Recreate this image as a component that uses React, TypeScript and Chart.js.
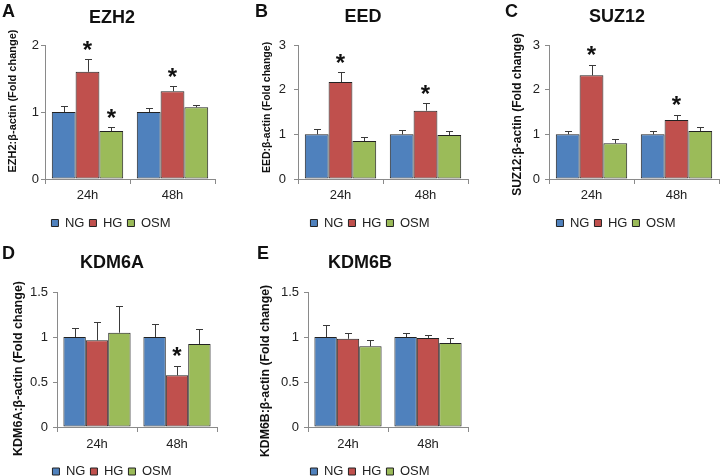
import React, { useEffect, useRef } from 'react';
import { Chart, registerables } from 'chart.js';
Chart.register(...registerables);

const FONT = "'Liberation Sans', Arial, sans-serif";

const categories = ['24h', '48h'];
const seriesNames = ['NG', 'HG', 'OSM'];
const seriesColors = ['#4F81BD', '#C0504D', '#9BBB59'];

// A: EZH2
const ezh2NG = [1.0, 1.0];
const ezh2HG = [1.6, 1.31];
const ezh2OSM = [0.716, 1.07];
const ezh2NGErr = [0.096, 0.056];
const ezh2HGErr = [0.19, 0.073];
const ezh2OSMErr = [0.06, 0.03];
const ezh2HGSig = [true, true];
const ezh2OSMSig = [true, false];
const ezh2Ticks = [0, 1, 2];

// B: EED
const eedNG = [1.0, 1.0];
const eedHG = [2.17, 1.53];
const eedOSM = [0.85, 0.985];
const eedNGErr = [0.11, 0.09];
const eedHGErr = [0.22, 0.17];
const eedOSMErr = [0.09, 0.085];
const eedHGSig = [true, true];
const eedTicks = [0, 1, 2, 3];

// C: SUZ12
const suz12NG = [1.0, 1.0];
const suz12HG = [2.32, 1.32];
const suz12OSM = [0.8, 1.075];
const suz12NGErr = [0.08, 0.08];
const suz12HGErr = [0.24, 0.12];
const suz12OSMErr = [0.09, 0.095];
const suz12HGSig = [true, true];
const suz12Ticks = [0, 1, 2, 3];

// D: KDM6A
const kdm6aNG = [1.0, 1.0];
const kdm6aHG = [0.963, 0.574];
const kdm6aOSM = [1.048, 0.922];
const kdm6aNGErr = [0.1, 0.15];
const kdm6aHGErr = [0.204, 0.106];
const kdm6aOSMErr = [0.292, 0.168];
const kdm6aHGSig = [false, true];
const kdm6aTicks = [0, 0.5, 1, 1.5];

// E: KDM6B
const kdm6bNG = [1.0, 1.0];
const kdm6bHG = [0.98, 0.99];
const kdm6bOSM = [0.896, 0.933];
const kdm6bNGErr = [0.13, 0.044];
const kdm6bHGErr = [0.064, 0.03];
const kdm6bOSMErr = [0.074, 0.057];
const kdm6bTicks = [0, 0.5, 1, 1.5];

const noSig = [false, false];

type Layout = {
  cl: number; ct: number; ch: number;
  l: number; r: number; t: number; b: number;
  yw: number; xh: number; padB: number;
  tickPadY: number; tickPadX: number;
  letter: { x: number; y: number };
  title: { x: number; y: number };
  yTitle: { x: number; y: number; size: number };
};

type Panel = {
  letter: string;
  title: string;
  yTitle: string;
  ticks: number[];
  values: number[][];
  errors: number[][];
  sig: boolean[][];
  layout: Layout;
};

const panels: Panel[] = [
  {
    letter: 'A', title: 'EZH2', yTitle: 'EZH2:β-actin (Fold change)', ticks: ezh2Ticks,
    values: [ezh2NG, ezh2HG, ezh2OSM], errors: [ezh2NGErr, ezh2HGErr, ezh2OSMErr],
    sig: [noSig, ezh2HGSig, ezh2OSMSig],
    layout: { cl: 0, ct: 0, ch: 240, l: 45, r: 215, t: 45, b: 179, yw: 38, xh: 35.5, padB: 0.5,
      tickPadY: 2, tickPadX: 4, letter: { x: 2, y: 12 }, title: { x: 112, y: 18 }, yTitle: { x: 13, y: 101, size: 11 } },
  },
  {
    letter: 'B', title: 'EED', yTitle: 'EED:β-actin (Fold change)', ticks: eedTicks,
    values: [eedNG, eedHG, eedOSM], errors: [eedNGErr, eedHGErr, eedOSMErr],
    sig: [noSig, eedHGSig, noSig],
    layout: { cl: 240, ct: 0, ch: 240, l: 298, r: 468, t: 45, b: 179, yw: 26, xh: 35.5, padB: 0.5,
      tickPadY: 8, tickPadX: 4, letter: { x: 255, y: 12 }, title: { x: 363, y: 17 }, yTitle: { x: 267.5, y: 107.5, size: 10.5 } },
  },
  {
    letter: 'C', title: 'SUZ12', yTitle: 'SUZ12:β-actin (Fold change)', ticks: suz12Ticks,
    values: [suz12NG, suz12HG, suz12OSM], errors: [suz12NGErr, suz12HGErr, suz12OSMErr],
    sig: [noSig, suz12HGSig, noSig],
    layout: { cl: 480, ct: 0, ch: 240, l: 549, r: 719, t: 45, b: 179, yw: 36, xh: 35.5, padB: 0.5,
      tickPadY: 5, tickPadX: 4, letter: { x: 505, y: 12 }, title: { x: 617, y: 17 }, yTitle: { x: 517.5, y: 114.5, size: 12 } },
  },
  {
    letter: 'D', title: 'KDM6A', yTitle: 'KDM6A:β-actin (Fold change)', ticks: kdm6aTicks,
    values: [kdm6aNG, kdm6aHG, kdm6aOSM], errors: [kdm6aNGErr, kdm6aHGErr, kdm6aOSMErr],
    sig: [noSig, kdm6aHGSig, noSig],
    layout: { cl: 0, ct: 240, ch: 248, l: 57, r: 217, t: 292, b: 427, yw: 50, xh: 36, padB: 0,
      tickPadY: 5, tickPadX: 5, letter: { x: 2, y: 254 }, title: { x: 112, y: 263.5 }, yTitle: { x: 19, y: 368.5, size: 12.5 } },
  },
  {
    letter: 'E', title: 'KDM6B', yTitle: 'KDM6B:β-actin (Fold change)', ticks: kdm6bTicks,
    values: [kdm6bNG, kdm6bHG, kdm6bOSM], errors: [kdm6bNGErr, kdm6bHGErr, kdm6bOSMErr],
    sig: [noSig, noSig, noSig],
    layout: { cl: 240, ct: 240, ch: 248, l: 308, r: 468, t: 292, b: 427, yw: 36, xh: 36, padB: 0,
      tickPadY: 5, tickPadX: 5, letter: { x: 257, y: 254 }, title: { x: 360, y: 263.5 }, yTitle: { x: 266, y: 371, size: 12.3 } },
  },
];

const PAD_R = 4;

function makeOverlay(p: Panel) {
  const L = p.layout;
  return {
    id: 'overlay' + p.letter,
    afterDatasetsDraw(chart: any) {
      const ctx = chart.ctx;
      const ys = chart.scales.y;
      chart.data.datasets.forEach((ds: any, i: number) => {
        const meta = chart.getDatasetMeta(i);
        meta.data.forEach((bar: any, j: number) => {
          const v = ds.data[j] as number;
          const e = p.errors[i][j];
          const top = ys.getPixelForValue(v + e);
          const x = Math.round(bar.x) + 0.5;
          const ty = Math.round(top) + 0.5;
          ctx.save();
          ctx.strokeStyle = '#3a3a3a';
          ctx.lineWidth = 1;
          ctx.beginPath();
          ctx.moveTo(x, bar.y);
          ctx.lineTo(x, ty);
          ctx.moveTo(x - 3.5, ty);
          ctx.lineTo(x + 3.5, ty);
          ctx.stroke();
          if (p.sig[i][j]) {
            ctx.font = `bold 24px ${FONT}`;
            ctx.fillStyle = '#111';
            ctx.textAlign = 'center';
            ctx.textBaseline = 'alphabetic';
            const m = ctx.measureText('*');
            const cy = top - 14;
            const base = cy + (m.actualBoundingBoxAscent - m.actualBoundingBoxDescent) / 2;
            ctx.fillText('*', bar.x, base);
          }
          ctx.restore();
        });
      });
    },
    afterDraw(chart: any) {
      const ctx = chart.ctx;
      ctx.save();
      ctx.fillStyle = '#111';
      ctx.textBaseline = 'middle';
      ctx.font = `bold 18px ${FONT}`;
      ctx.textAlign = 'left';
      ctx.fillText(p.letter, L.letter.x - L.cl, L.letter.y - L.ct);
      ctx.textAlign = 'center';
      ctx.fillText(p.title, L.title.x - L.cl, L.title.y - L.ct);
      ctx.font = `bold ${L.yTitle.size}px ${FONT}`;
      ctx.translate(L.yTitle.x - L.cl, L.yTitle.y - L.ct);
      ctx.rotate(-Math.PI / 2);
      ctx.fillText(p.yTitle, 0, 0);
      ctx.restore();
    },
  };
}

function PanelChart({ p }: { p: Panel }) {
  const ref = useRef<HTMLCanvasElement>(null);
  const L = p.layout;
  const W = L.r + PAD_R - L.cl;
  const H = L.ch;
  useEffect(() => {
    const canvas = ref.current!;
    const padLeft = L.l - L.cl - L.yw;
    const chart = new Chart(canvas, {
      type: 'bar',
      data: {
        labels: categories,
        datasets: seriesNames.map((name, i) => ({
          label: name,
          data: p.values[i],
          backgroundColor: seriesColors[i],
          borderColor: '#222',
          borderWidth: 1,
          borderSkipped: false,
          categoryPercentage: 0.84,
          barPercentage: 1,
        })),
      },
      options: {
        responsive: false,
        maintainAspectRatio: false,
        animation: false,
        layout: { padding: { left: padLeft, right: PAD_R, top: L.t - L.ct, bottom: L.padB } },
        plugins: {
          title: { display: false },
          tooltip: { enabled: false },
          legend: {
            display: true,
            position: 'bottom',
            labels: {
              boxWidth: 7,
              boxHeight: 7,
              padding: 5,
              color: '#222',
              font: { family: FONT, size: 13 },
            },
          },
        },
        scales: {
          x: {
            grid: { display: true, drawOnChartArea: false, drawTicks: true, tickLength: 5, color: '#8a8a8a', offset: true },
            border: { display: true, color: '#8a8a8a' },
            ticks: { color: '#222', font: { family: FONT, size: 13 }, padding: L.tickPadX, maxRotation: 0 },
            afterFit: (s: any) => { s.height = L.xh - 3; },
          },
          y: {
            min: p.ticks[0],
            max: p.ticks[p.ticks.length - 1],
            grid: { display: true, drawOnChartArea: false, drawTicks: true, tickLength: 4, color: '#8a8a8a' },
            border: { display: true, color: '#8a8a8a' },
            ticks: {
              color: '#222',
              font: { family: FONT, size: 13 },
              padding: L.tickPadY,
              callback: (v: any) => String(Number(v)),
            },
            afterBuildTicks: (s: any) => { s.ticks = p.ticks.map((v) => ({ value: v })); },
            afterFit: (s: any) => { s.width = L.yw; },
          },
        },
      } as any,
      plugins: [makeOverlay(p)],
    });
    return () => chart.destroy();
  }, []);
  return (
    <canvas
      ref={ref}
      width={W}
      height={H}
      style={{ position: 'absolute', left: L.cl, top: L.ct, width: W, height: H }}
    />
  );
}

export default function App() {
  return (
    <div style={{ position: 'absolute', left: 0, top: 0, width: 723, height: 476, overflow: 'hidden', background: '#fff' }}>
      {panels.map((p) => (
        <PanelChart key={p.letter} p={p} />
      ))}
    </div>
  );
}
